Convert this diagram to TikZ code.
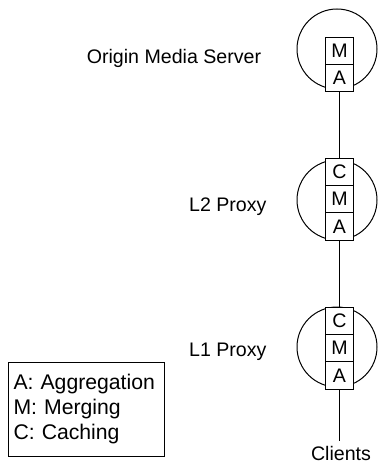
\documentclass[tikz,border=0pt]{standalone}
\usepackage{fontspec}
\setmainfont{Liberation Sans}
\usetikzlibrary{positioning}
\usetikzlibrary{math}

\tikzset{
  cell/.style={draw, fill=white, outer sep=0pt, inner sep=0pt,
    minimum width=13.6pt, minimum height=13.6pt},
  label/.style={inner sep=0pt},
}

\begin{document}
\begin{tikzpicture}[x=0.5pt,y=-0.5pt,line width=0.5pt,
    font=\fontsize{9.8}{12.5}\selectfont]

  \tikzmath{
    \xbox   = 339.5; % x of the stacks of cells
    \xring  = 337;   % x of the circles
    \radius = 20;    % radius of the circles (pt)
  }

  % page size
  \useasboundingbox (0,0) rectangle (378,464);

  % circles round the stacks
  \draw (\xring, 49)  circle [radius=\radius pt];
  \draw (\xring, 200) circle [radius=\radius pt];
  \draw (\xring, 347) circle [radius=\radius pt];

  % origin media server
  \node[cell] (osM) at (\xbox, 51) {M};
  \node[cell, below=0pt of osM] (osA) {A};

  % L2 proxy
  \node[cell] (ltC) at (\xbox, 172) {C};
  \node[cell, below=0pt of ltC] (ltM) {M};
  \node[cell, below=0pt of ltM] (ltA) {A};

  % L1 proxy
  \node[cell] (loC) at (\xbox, 321) {C};
  \node[cell, below=0pt of loC] (loM) {M};
  \node[cell, below=0pt of loM] (loA) {A};

  % names of the levels
  \node[label] (osname) at (174, 58) {Origin Media Server};
  \node[label, anchor=east] (ltname) at (267, 207) {L2 Proxy};
  \node[label, anchor=east] (loname) at (267, 352) {L1 Proxy};
  \node[label] (clients) at (341, 453) {Clients};

  % links
  \draw (osA.south) -- (ltC.north);
  \draw (ltA.south) -- (loC.north);
  \draw (loA.south) -- (\xbox, 441);

  % legend
  \node[draw, align=left, anchor=north west, inner sep=0pt,
    minimum width=78pt, minimum height=47pt, text width=73pt,
    font=\fontsize{10.6}{12.5}\selectfont]
    (legend) at (8, 362)
    {A: Aggregation\\M: Merging\\C: Caching};

\end{tikzpicture}
\end{document}
